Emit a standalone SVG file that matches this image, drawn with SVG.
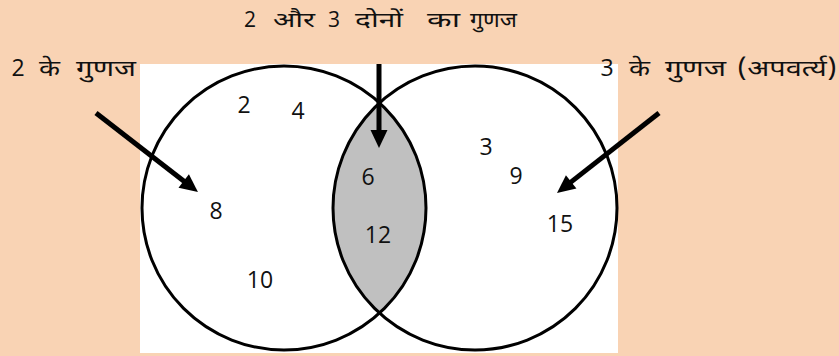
<svg xmlns="http://www.w3.org/2000/svg" width="839" height="356" viewBox="0 0 839 356">
<style>
.lbl{font-family:"Noto Sans Devanagari","Noto Sans","Liberation Sans",sans-serif;font-weight:400;fill:#111}
.t{font-size:21px}
.s{font-size:23px}
.num{font-family:"Open Sans","Noto Sans",sans-serif;font-size:23px;fill:#111;text-anchor:middle}
.ring{fill:none;stroke:#000;stroke-width:3}
.arr{stroke:#000;stroke-width:5;fill:none}
</style>
<defs>
<marker id="ah" markerUnits="userSpaceOnUse" markerWidth="20" markerHeight="20" refX="2" refY="0" viewBox="0 -10 20 20" orient="auto" overflow="visible">
<path d="M0,-8.5 L18,0 L0,8.5 z" fill="#000"/>
</marker>
</defs>
<rect x="0" y="0" width="839" height="356" fill="#F9D3B4"/>
<rect x="140" y="64" width="478" height="289" fill="#fff"/>
<g id="intersection">
<path d="M379.5,103 A142,142 0 0,1 379.5,313 A142,142 0 0,1 379.5,103 Z" fill="#C0C0C0"/>
</g>
<g id="set2">
<circle class="ring" cx="284" cy="208" r="142"/>
</g>
<g id="set3">
<circle class="ring" cx="475" cy="208" r="142"/>
</g>
<g id="connectors">
<line class="arr" x1="96" y1="113" x2="185.3" y2="182.2" marker-end="url(#ah)"/>
<line class="arr" x1="379" y1="64" x2="379" y2="132" marker-end="url(#ah)"/>
<line class="arr" x1="659" y1="113" x2="569.6" y2="183.1" marker-end="url(#ah)"/>
</g>
<g id="labels">
<text class="num" x="250" y="27" style="font-size:21px">2</text>
<text class="lbl t" x="273" y="27" textLength="42" lengthAdjust="spacingAndGlyphs">और</text>
<text class="num" x="334" y="27" style="font-size:21px">3</text>
<text class="lbl t" x="355" y="27" textLength="48" lengthAdjust="spacingAndGlyphs">दोनों</text>
<text class="lbl t" x="427" y="27" textLength="33" lengthAdjust="spacingAndGlyphs">का</text>
<text class="lbl t" x="470" y="27" textLength="47" lengthAdjust="spacingAndGlyphs">गुणज</text>
<text class="num" x="18" y="76" style="font-size:23px">2</text>
<text class="lbl s" x="39" y="76" textLength="21" lengthAdjust="spacingAndGlyphs">के</text>
<text class="lbl s" x="76" y="76" textLength="60" lengthAdjust="spacingAndGlyphs">गुणज</text>
<text class="num" x="607" y="76" style="font-size:23px">3</text>
<text class="lbl s" x="629" y="76" textLength="21" lengthAdjust="spacingAndGlyphs">के</text>
<text class="lbl s" x="665" y="76" textLength="61" lengthAdjust="spacingAndGlyphs">गुणज</text>
<text class="lbl s" x="737" y="76" textLength="100" lengthAdjust="spacingAndGlyphs">(अपवर्त्य)</text>
</g>
<g id="numbers">
<text class="num" x="244" y="113">2</text>
<text class="num" x="298" y="119">4</text>
<text class="num" x="216" y="219">8</text>
<text class="num" x="260" y="288">10</text>
<text class="num" x="368" y="185">6</text>
<text class="num" x="378" y="243">12</text>
<text class="num" x="486" y="155">3</text>
<text class="num" x="516" y="184">9</text>
<text class="num" x="560" y="232">15</text>
</g>
</svg>
